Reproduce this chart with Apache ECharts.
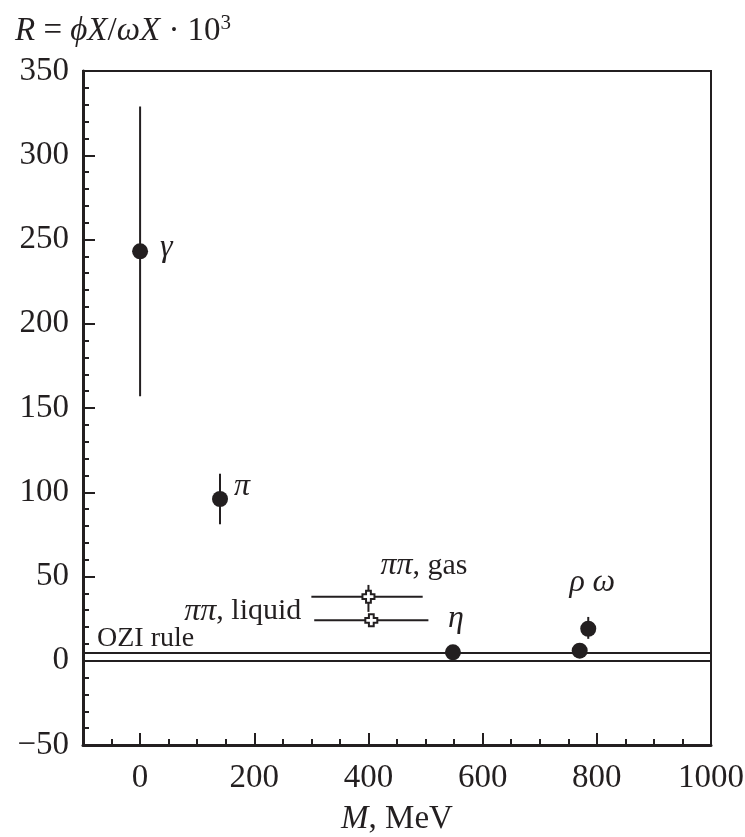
<!DOCTYPE html>
<html>
<head>
<meta charset="utf-8">
<script src="https://cdn.jsdelivr.net/npm/echarts@6/dist/echarts.min.js"></script>
<style>
  html, body { margin: 0; padding: 0; background: #fff; }
  #chart { width: 745px; height: 837px; }
</style>
</head>
<body>
<div id="chart"></div>
<script>
// meson points (filled circles)
const pointNames = ['γ', 'π', 'η', 'ρ', 'ω'];
const pointM = [0, 140, 548, 770, 785];
const pointR = [243, 96, 5, 6, 19];
const pointRLow = [157, 81, null, null, 13];
const pointRHigh = [329, 111, null, null, 26];

// pi-pi points (open crosses)
const pipiNames = ['gas', 'liquid'];
const pipiM = [400, 405];
const pipiR = [38, 24];
const pipiMLow = [300, 305];
const pipiMHigh = [495, 505];
const pipiRLow = [29, 24];
const pipiRHigh = [45, 24];

// OZI rule band
const oziLines = [0, 5];

// axis ticks
const xLabelValues = [0, 200, 400, 600, 800, 1000];
const xMajorTicks = [0, 200, 400, 600, 800];
const xMinorTicks = [-50, 50, 100, 150, 250, 300, 350, 450, 500, 550, 650, 700, 750, 850, 900, 950];

const ink = '#231f20';
const serif = '"Liberation Serif", "DejaVu Serif", serif';

const chart = echarts.init(document.getElementById('chart'));

const labelFor = {
  'γ': { show: true, position: 'right', offset: [7, -4], formatter: '{i|γ}' },
  'π': { show: true, position: 'right', offset: [1, -12], formatter: '{i|π}' },
  'η': { show: true, position: 'top', offset: [3, -5], formatter: '{i|η}' },
  'ω': { show: true, position: 'top', offset: [4, -17], formatter: '{i|ρ} {i|ω}' },
  'gas': { show: true, position: 'right', offset: [0, -31], formatter: '{i|ππ}, gas' },
  'liquid': { show: true, position: 'left', offset: [-58, -9], formatter: '{i|ππ}, liquid' }
};

const richText = {
  i: { fontStyle: 'italic', fontFamily: serif, fontSize: 32, color: ink }
};

const pointData = pointNames.map((n, k) => ({
  name: n,
  value: [pointM[k], pointR[k]],
  label: labelFor[n] ? Object.assign({ rich: richText }, labelFor[n]) : { show: false }
}));

const pipiData = pipiNames.map((n, k) => ({
  name: n,
  value: [pipiM[k], pipiR[k]],
  label: Object.assign({ rich: richText }, labelFor[n])
}));

// error bar rows: [x, y, xlo, xhi, ylo, yhi]
const errRows = [];
pointNames.forEach((n, k) => {
  if (pointRLow[k] != null) errRows.push([pointM[k], pointR[k], null, null, pointRLow[k], pointRHigh[k]]);
});
pipiNames.forEach((n, k) => {
  errRows.push([pipiM[k], pipiR[k], pipiMLow[k], pipiMHigh[k], pipiRLow[k], pipiRHigh[k]]);
});

function renderErr(params, api) {
  const x = api.value(0), y = api.value(1);
  const children = [];
  const lineStyle = { stroke: ink, lineWidth: 2 };
  const ylo = api.value(4), yhi = api.value(5);
  if (ylo !== yhi && !isNaN(ylo)) {
    const a = api.coord([x, ylo]), b = api.coord([x, yhi]);
    children.push({ type: 'line', shape: { x1: a[0], y1: a[1], x2: b[0], y2: b[1] }, style: lineStyle });
  }
  const xlo = api.value(2), xhi = api.value(3);
  if (!isNaN(xlo) && xlo !== null) {
    const a = api.coord([xlo, y]), b = api.coord([xhi, y]);
    children.push({ type: 'line', shape: { x1: a[0], y1: a[1], x2: b[0], y2: b[1] }, style: lineStyle });
  }
  return { type: 'group', children: children };
}

const option = {
  backgroundColor: '#fff',
  animation: false,
  title: {
    left: 10,
    top: 8,
    text: '{i|R} = {i|ϕX}/{i|ωX} · 10{s|3}',
    textStyle: {
      fontFamily: serif, fontSize: 33, fontWeight: 'normal', color: ink,
      rich: {
        i: { fontStyle: 'italic', fontFamily: serif, fontSize: 33, color: ink },
        s: { fontFamily: serif, fontSize: 21, color: ink, verticalAlign: 'bottom', padding: [0, 0, 15, 0] }
      }
    }
  },
  grid: {
    left: 83, right: 34, top: 71, bottom: 92,
    outerBoundsMode: 'none',
    containLabel: false,
    show: true, borderColor: ink, borderWidth: 2, backgroundColor: 'transparent'
  },
  xAxis: [{
    type: 'value',
    min: -100, max: 1000, interval: 50,
    name: '{i|M}, MeV',
    nameLocation: 'middle',
    nameGap: 58,
    nameTextStyle: {
      fontFamily: serif, fontSize: 33, color: ink,
      rich: { i: { fontStyle: 'italic', fontFamily: serif, fontSize: 33, color: ink } }
    },
    axisLine: { show: true, onZero: false, lineStyle: { color: ink, width: 3 } },
    axisTick: { show: true, inside: true, length: 12, customValues: xMajorTicks, lineStyle: { color: ink, width: 2 } },
    axisLabel: {
      customValues: xLabelValues, fontFamily: serif, fontSize: 33, color: ink, margin: 17,
      formatter: v => String(v)
    },
    splitLine: { show: false }
  }, {
    type: 'value',
    min: -100, max: 1000, interval: 50,
    position: 'bottom',
    axisLine: { show: false, onZero: false },
    axisTick: { show: true, inside: true, length: 6, customValues: xMinorTicks, lineStyle: { color: ink, width: 2 } },
    axisLabel: { show: false },
    splitLine: { show: false }
  }],
  yAxis: {
    type: 'value',
    min: -50, max: 350, interval: 50,
    axisLine: { show: true, onZero: false, lineStyle: { color: ink, width: 3 } },
    axisTick: { show: true, inside: true, length: 12, lineStyle: { color: ink, width: 2 } },
    minorTick: { show: true, splitNumber: 5, length: 6, lineStyle: { color: ink, width: 2 } },
    axisLabel: {
      fontFamily: serif, fontSize: 33, color: ink, margin: 14,
      formatter: v => (v < 0 ? '\u2212' + Math.abs(v) : String(v))
    },
    splitLine: { show: false }
  },
  series: [{
    type: 'custom',
    name: 'errors',
    renderItem: renderErr,
    data: errRows,
    encode: { x: [0, 2, 3], y: [1, 4, 5] },
    z: 2,
    silent: true
  }, {
    type: 'scatter',
    name: 'OZI',
    data: [],
    markLine: {
      silent: true,
      symbol: 'none',
      lineStyle: { color: ink, width: 2, type: 'solid' },
      label: { show: false },
      data: oziLines.map((v, k) => ({
        yAxis: v,
        label: k === 1 ? {
          show: true, position: 'insideStartTop', formatter: 'OZI rule',
          fontFamily: serif, fontSize: 28, color: ink, distance: [14, 0]
        } : { show: false }
      }))
    },
    z: 1
  }, {
    type: 'scatter',
    name: 'mesons',
    data: pointData,
    symbol: 'circle',
    symbolSize: 16,
    itemStyle: { color: ink, opacity: 1 },
    label: { fontFamily: serif, fontSize: 31, color: ink },
    z: 3
  }, {
    type: 'scatter',
    name: 'pipi',
    data: pipiData,
    symbol: 'path://M3,0H7V3H10V7H7V10H3V7H0V3H3Z',
    symbolSize: 12,
    itemStyle: { color: '#fff', borderColor: ink, borderWidth: 2, opacity: 1 },
    label: { fontFamily: serif, fontSize: 30, color: ink },
    z: 4
  }]
};

chart.setOption(option);
</script>
</body>
</html>
